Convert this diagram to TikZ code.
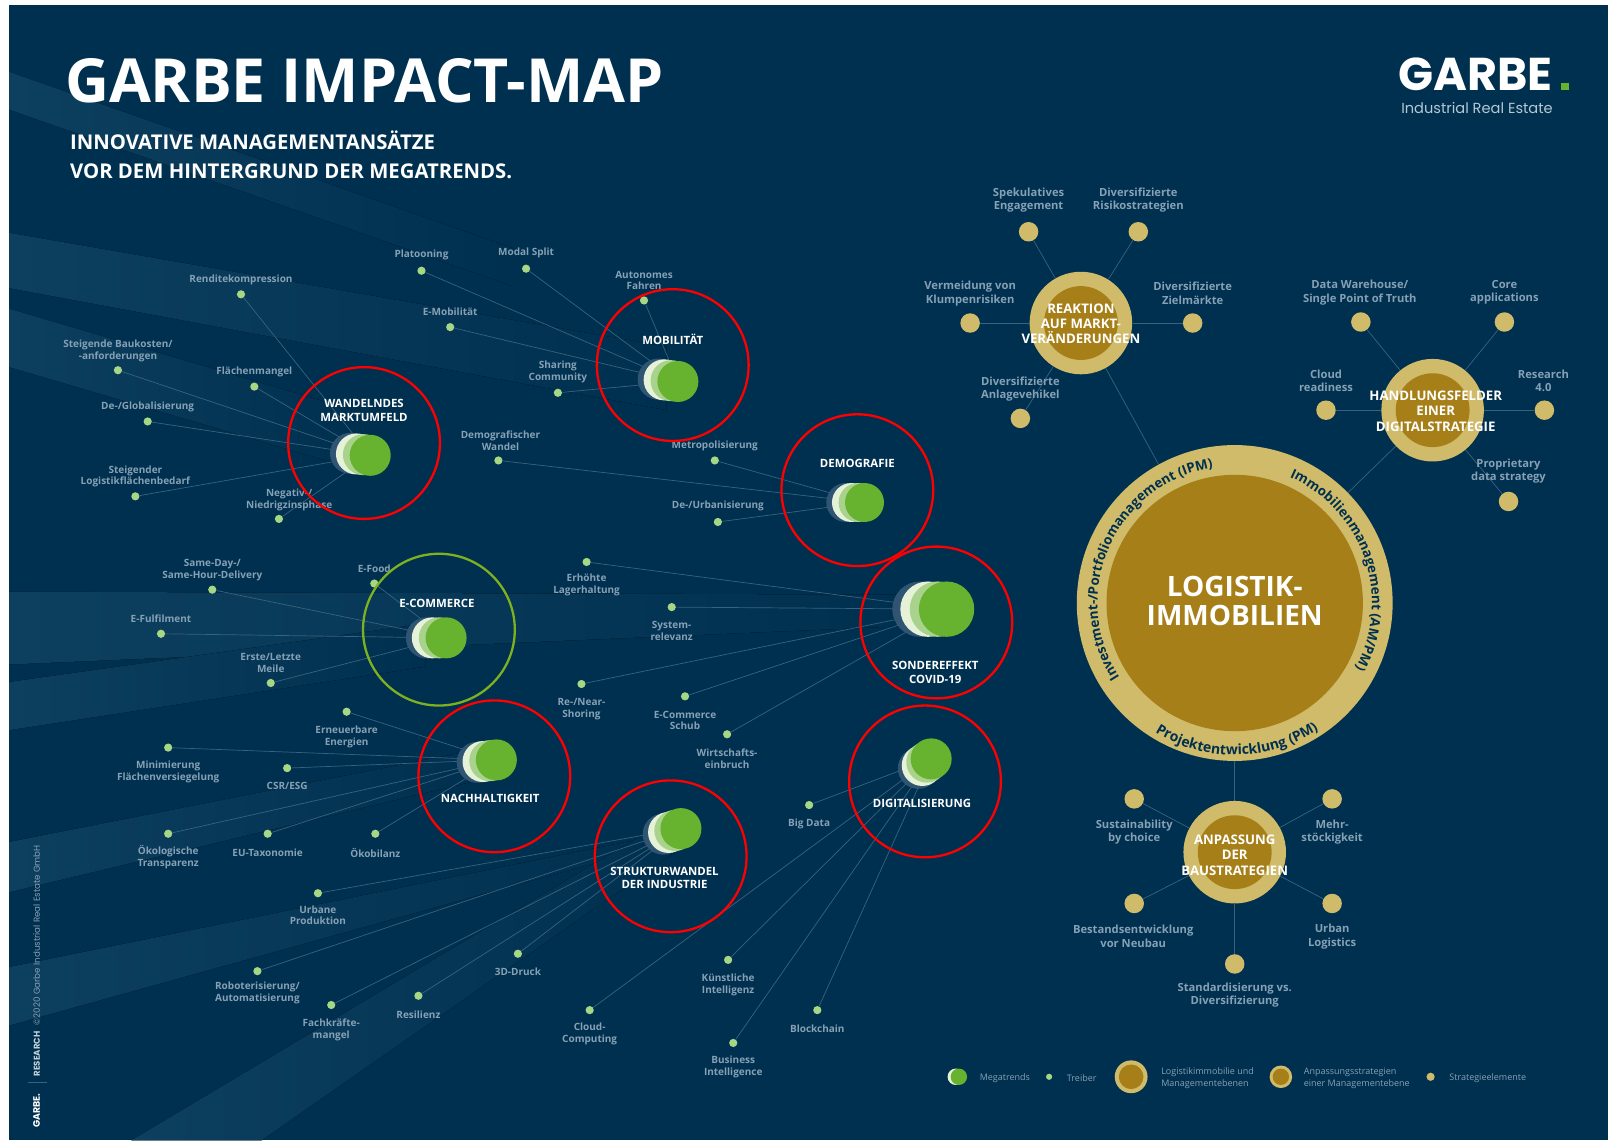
\documentclass[tikz,border=0pt]{standalone}
\usepackage{fontspec}
\setmainfont{Open Sans}
\newfontfamily\logofont{Poppins}
\usetikzlibrary{decorations.text}
\definecolor{navy}{HTML}{00304F}
\definecolor{band}{HTML}{0D3F5F}
\definecolor{linkc}{HTML}{38637E}
\definecolor{labc}{HTML}{86A1B5}
\definecolor{dotc}{HTML}{A6D785}
\definecolor{hubdark}{HTML}{2F5573}
\definecolor{hubwhite}{HTML}{E6F2D8}
\definecolor{hublg}{HTML}{A9D38C}
\definecolor{hubgreen}{HTML}{67B22E}
\definecolor{goldo}{HTML}{CFBB69}
\definecolor{goldi}{HTML}{A67F18}
\definecolor{olive}{HTML}{7DB11F}
\pgfdeclarelayer{bands}
\pgfdeclarelayer{lines}
\pgfsetlayers{bands,lines,main}
\def\uu{0.51276pt}
\tikzset{
  x=\uu, y=-\uu,
  disc/.style={circle,inner sep=0pt,draw=none},
  lab/.style={inner sep=0pt,yshift=-0.8pt,align=center,text=labc,font=\fontsize{5}{5.9}\selectfont\bfseries},
  elab/.style={inner sep=0pt,yshift=-0.6pt,align=center,text=labc,font=\fontsize{5.6}{6.7}\selectfont\bfseries},
  hubtxt/.style={inner sep=0pt,align=center,text=white,font=\fontsize{5.7}{6.9}\selectfont\bfseries},
  sattxt/.style={inner sep=0pt,align=center,text=white,font=\fontsize{6.6}{7.6}\selectfont\bfseries},
  legtxt/.style={inner sep=0pt,yshift=-0.6pt,align=left,anchor=west,text=labc,font=\fontsize{4.5}{6.1}\selectfont},
  link/.style={draw=linkc,line width=0.35pt},
  ring/.style={decorate,decoration={text along path,text align=center}},
  redring/.style={draw=red,line width=1.15pt,circle,inner sep=0pt,minimum size={148*\uu}},
  bandfill/.style={left color=band,right color=navy}
}
% hub: id, x, y, r, dirx, diry
\newcommand\hub[6]{%
  \pgfmathsetmacro\hax{#2+#5*#4*0.96}\pgfmathsetmacro\hay{#3+#6*#4*0.96}%
  \pgfmathsetmacro\hbx{#2+#5*#4*0.67}\pgfmathsetmacro\hby{#3+#6*#4*0.67}%
  \pgfmathsetmacro\hcx{#2+#5*#4*0.33}\pgfmathsetmacro\hcy{#3+#6*#4*0.33}%
  \node[disc,fill=hubdark,minimum size={2*#4*\uu}] at (\hax,\hay) {};
  \node[disc,fill=hubwhite,minimum size={2*#4*\uu}] at (\hbx,\hby) {};
  \node[disc,fill=hublg,minimum size={2*#4*\uu}] at (\hcx,\hcy) {};
  \node[disc,fill=hubgreen,minimum size={2*#4*\uu}] (#1) at (#2,#3) {};
}
% driver: id, dot pos, label pos, text, hub
\newcommand\drv[5]{%
  \node[disc,fill=dotc,minimum size={8*\uu}] (#1) at (#2) {};
  \node[lab] (#1-l) at (#3) {#4};
  \begin{pgfonlayer}{lines}\draw[link] (#1) -- (#5);\end{pgfonlayer}
}
% strategy element
\newcommand\elm[5]{%
  \node[disc,fill=goldo,minimum size={19*\uu}] (#1) at (#2) {};
  \node[elab] (#1-l) at (#3) {#4};
  \begin{pgfonlayer}{lines}\draw[link] (#1) -- (#5);\end{pgfonlayer}
}
\newcommand\sat[3]{%
  \node[disc,fill=goldo,minimum size={100*\uu}] (#1) at (#2) {};
  \node[disc,fill=goldi,minimum size={72*\uu}] (#1-i) at (#2) {};
}
\begin{document}
\begin{tikzpicture}
\useasboundingbox (0,0) rectangle (1568,1112);
\begin{pgfonlayer}{bands}
\fill[white] (0,0) rectangle (1568,1112);
\fill[navy] (9,5) rectangle (1568,1112);
\fill[bandfill] (9,70) -- (9,107) -- (500,279) -- (500,242) -- cycle;
\fill[bandfill] (9,227) -- (9,281) -- (650,400) -- (650,338) -- cycle;
\fill[bandfill] (9,301) -- (9,358) -- (345,457) -- (345,400) -- cycle;
\fill[bandfill] (9,577) -- (9,648) -- (895,610) -- (895,580) -- cycle;
\fill[bandfill] (9,665) -- (9,712) -- (415,650) -- (415,608) -- cycle;
\fill[bandfill] (9,821) -- (9,870) -- (470,760) -- (470,730) -- cycle;
\fill[bandfill] (9,943) -- (9,1000) -- (640,825) -- (640,815) -- cycle;
\fill[bandfill] (128,1112) -- (255,1112) -- (660,830) -- (650,800) -- cycle;
\end{pgfonlayer}

% titles
\node[inner sep=0pt,anchor=base west,text=white,font=\fontsize{30.4}{31}\selectfont\bfseries] (title) at (63,100) {GARBE IMPACT-MAP};
\node[inner sep=0pt,anchor=base west,text=white,font=\fontsize{10.15}{12}\selectfont\bfseries] (sub1) at (68,146) {INNOVATIVE MANAGEMENTANSÄTZE};
\node[inner sep=0pt,anchor=base west,text=white,font=\fontsize{10.15}{12}\selectfont\bfseries] (sub2) at (68,174) {VOR DEM HINTERGRUND DER MEGATRENDS.};
\node[inner sep=0pt,anchor=base west,text=white,font=\fontsize{23}{24}\logofont\selectfont\bfseries] (logo) at (1363,88) {GARBE};
\node[inner sep=0pt,minimum size={7*\uu},fill=hubgreen] (logodot) at (1526,84) {};
\node[inner sep=0pt,anchor=base west,text=labc!60!white,font=\fontsize{7.3}{8}\logofont\selectfont] (logosub) at (1366,111) {Industrial Real Estate};

% side text
\node[inner sep=0pt,anchor=base west,rotate=90,text=white,font=\fontsize{4.7}{5}\logofont\selectfont\bfseries] (sg) at (39,1100) {GARBE.};
\draw[linkc,line width=0.5pt] (27,1056) -- (46,1056);
\node[inner sep=0pt,anchor=base west,rotate=90,text=labc!50!white,font=\fontsize{4.3}{5}\logofont\selectfont\bfseries] (sr) at (39,1050) {RESEARCH};
\node[inner sep=0pt,anchor=base west,rotate=90,text=labc,font=\fontsize{4.35}{5}\logofont\selectfont] (sc) at (39,1000) {©2020 Garbe Industrial Real Estate GmbH};

% hubs
\hub{mob}{661}{372}{20}{-1}{-0.12}
\hub{wan}{361}{444}{20}{-1}{-0.1}
\hub{dem}{843}{490}{19}{-1}{0}
\hub{cov}{923}{594}{27}{-1}{0}
\hub{eco}{435}{622}{20}{-1}{0}
\hub{nac}{484}{741}{20}{-0.97}{0.12}
\hub{str}{664}{808}{20}{-0.9}{0.28}
\hub{dig}{908}{740}{20}{-0.65}{0.48}

\node[hubtxt] (mob-t) at (656,331) {MOBILITÄT};
\node[hubtxt] (wan-t) at (355,400) {WANDELNDES\\MARKTUMFELD};
\node[hubtxt] (dem-t) at (836,452) {DEMOGRAFIE};
\node[hubtxt] (cov-t) at (912,656) {SONDEREFFEKT\\COVID-19};
\node[hubtxt] (eco-t) at (426,588) {E-COMMERCE};
\node[hubtxt] (nac-t) at (478,779) {NACHHALTIGKEIT};
\node[hubtxt] (str-t) at (648,856) {STRUKTURWANDEL\\DER INDUSTRIE};
\node[hubtxt] (dig-t) at (899,783) {DIGITALISIERUNG};

% drivers
\drv{d1}{235,287}{235,271}{Renditekompression}{wan}
\drv{d2}{115,361}{115,341}{Steigende Baukosten/\\-anforderungen}{wan}
\drv{d3}{248,377}{248,361}{Flächenmangel}{wan}
\drv{d4}{144,411}{144,395}{De-/Globalisierung}{wan}
\drv{d5}{132,484}{132,463}{Steigender\\Logistikflächenbedarf}{wan}
\drv{d6}{272,506}{282,486}{Negativ-/\\Niedrigzinsphase}{wan}
\drv{d7}{411,264}{411,247}{Platooning}{mob}
\drv{d8}{513,262}{513,245}{Modal Split}{mob}
\drv{d9}{628,293}{628,272}{Autonomes\\Fahren}{mob}
\drv{d10}{439,319}{439,302}{E-Mobilität}{mob}
\drv{d11}{544,383}{544,361}{Sharing\\Community}{mob}
\drv{d12}{486,449}{488,428}{Demografischer\\Wandel}{dem}
\drv{d13}{697,449}{697,433}{Metropolisierung}{dem}
\drv{d14}{700,509}{700,492}{De-/Urbanisierung}{dem}
\drv{d15}{207,575}{207,554}{Same-Day-/\\Same-Hour-Delivery}{eco}
\drv{d16}{365,569}{365,553}{E-Food}{eco}
\drv{d17}{157,618}{157,602}{E-Fulfilment}{eco}
\drv{d18}{264,666}{264,645}{Erste/Letzte\\Meile}{eco}
\drv{d19}{572,548}{572,569}{Erhöhte\\Lagerhaltung}{cov}
\drv{d20}{655,592}{655,614}{System-\\relevanz}{cov}
\drv{d21}{567,667}{567,690}{Re-/Near-\\Shoring}{cov}
\drv{d22}{668,679}{668,701}{E-Commerce\\Schub}{cov}
\drv{d23}{709,716}{709,738}{Wirtschafts-\\einbruch}{cov}
\drv{d24}{338,694}{338,717}{Erneuerbare\\Energien}{nac}
\drv{d25}{164,729}{164,751}{Minimierung\\Flächenversiegelung}{nac}
\drv{d26}{280,749}{280,765}{CSR/ESG}{nac}
\drv{d27}{164,813}{164,834}{Ökologische\\Transparenz}{nac}
\drv{d28}{261,813}{261,830}{EU-Taxonomie}{nac}
\drv{d29}{366,813}{366,830}{Ökobilanz}{nac}
\drv{d30}{310,871}{310,891}{Urbane\\Produktion}{str}
\drv{d31}{251,947}{251,967}{Roboterisierung/\\Automatisierung}{str}
\drv{d32}{323,980}{323,1003}{Fachkräfte-\\mangel}{str}
\drv{d33}{408,971}{408,988}{Resilienz}{str}
\drv{d34}{505,930}{505,946}{3D-Druck}{str}
\drv{d35}{575,985}{575,1007}{Cloud-\\Computing}{dig}
\drv{d36}{789,785}{789,802}{Big Data}{dig}
\drv{d37}{710,936}{710,959}{Künstliche\\Intelligenz}{dig}
\drv{d38}{797,985}{797,1002}{Blockchain}{dig}
\drv{d39}{715,1017}{715,1039}{Business\\Intelligence}{dig}

% main circle
\node[disc,fill=goldo,minimum size={308*\uu}] (main) at (1204,588) {};
\node[disc,fill=goldi,minimum size={250*\uu}] (main-i) at (1204,588) {};
\node[inner sep=0pt,align=center,text=white,font=\fontsize{14}{14.5}\selectfont\bfseries] (main-t) at (1204,586.5) {LOGISTIK-\\IMMOBILIEN};
\path[ring,decoration={text={|\fontsize{6.7}{8}\selectfont\bfseries\color{navy}|Investment-/Portfoliomanagement (IPM)}}]
  (1204,588) ++(221:68.6pt) arc (221:91:68.6pt);
\path[ring,decoration={text={|\fontsize{6.7}{8}\selectfont\bfseries\color{navy}|Immobilienmanagement (AM/PM)}}]
  (1204,588) ++(72:68.6pt) arc (72:-34:68.6pt);
\path[ring,decoration={text={|\fontsize{7}{8}\selectfont\bfseries\color{navy}|Projektentwicklung (PM)}}]
  (1204,588) ++(232:76pt) arc (232:310:76pt);

% satellites
\sat{rea}{1054,315}{}
\sat{han}{1397,400}{}
\sat{anp}{1204,831}{}
\begin{pgfonlayer}{lines}
\draw[link] (rea) -- (main);
\draw[link] (han) -- (main);
\draw[link] (anp) -- (main);
\end{pgfonlayer}
\node[sattxt] (rea-t) at (1054,316) {REAKTION\\AUF MARKT-\\VERÄNDERUNGEN};
\node[sattxt] (han-t) at (1400,401) {HANDLUNGSFELDER\\EINER\\DIGITALSTRATEGIE};
\node[sattxt] (anp-t) at (1204,834) {ANPASSUNG\\DER\\BAUSTRATEGIEN};

\elm{e1}{1003,226}{1003,194}{Spekulatives\\Engagement}{rea}
\elm{e2}{1110,226}{1110,194}{Diversifizierte\\Risikostrategien}{rea}
\elm{e3}{946,315}{946,285}{Vermeidung von\\Klumpenrisiken}{rea}
\elm{e4}{1163,315}{1163,285}{Diversifizierte\\Zielmärkte}{rea}
\elm{e5}{995,408}{995,378}{Diversifizierte\\Anlagevehikel}{rea}
\elm{e6}{1327,314}{1326,284}{Data Warehouse/\\Single Point of Truth}{han}
\elm{e7}{1467,314}{1467,284}{Core\\applications}{han}
\elm{e8}{1293,400}{1293,370}{Cloud\\readiness}{han}
\elm{e9}{1506,400}{1505,370}{Research\\4.0}{han}
\elm{e10}{1471,489}{1471,458}{Proprietary\\data strategy}{han}
\elm{e11}{1106,779}{1106,810}{Sustainability\\by choice}{anp}
\elm{e12}{1299,779}{1299,810}{Mehr-\\stöckigkeit}{anp}
\elm{e13}{1106,881}{1105,912}{Bestandsentwicklung\\vor Neubau}{anp}
\elm{e14}{1299,881}{1299,912}{Urban\\Logistics}{anp}
\elm{e15}{1204,940}{1204,969}{Standardisierung vs.\\Diversifizierung}{anp}

% legend
\node[disc,fill=hubwhite,minimum size={16*\uu}] (lg0) at (932,1050) {};
\node[disc,fill=hubgreen,minimum size={16*\uu}] (lg1) at (935,1050) {};
\node[legtxt] (lg1-t) at (955,1050) {Megatrends};
\node[disc,fill=dotc,minimum size={6*\uu}] (lg2) at (1023,1050) {};
\node[legtxt] (lg2-t) at (1040,1050) {Treiber};
\node[disc,fill=goldo,minimum size={32*\uu}] (lg3) at (1103,1050) {};
\node[disc,fill=goldi,minimum size={24*\uu}] (lg3-i) at (1103,1050) {};
\node[legtxt] (lg3-t) at (1132,1050) {Logistikimmobilie und\\Managementebenen};
\node[disc,fill=goldo,minimum size={22*\uu}] (lg4) at (1249,1050) {};
\node[disc,fill=goldi,minimum size={16*\uu}] (lg4-i) at (1249,1050) {};
\node[legtxt] (lg4-t) at (1271,1050) {Anpassungsstrategien\\einer Managementebene};
\node[disc,fill=goldo,minimum size={8*\uu}] (lg5) at (1395,1050) {};
\node[legtxt] (lg5-t) at (1413,1050) {Strategieelemente};

% highlight rings
\node[redring] (r1) at (656,356) {};
\node[redring] (r2) at (355,432) {};
\node[redring] (r3) at (836,478) {};
\node[redring] (r4) at (913,607) {};
\node[redring,draw=olive] (r5) at (428,614) {};
\node[redring] (r6) at (482,757) {};
\node[redring] (r7) at (654,835) {};
\node[redring] (r8) at (902,762) {};
\end{tikzpicture}
\end{document}
